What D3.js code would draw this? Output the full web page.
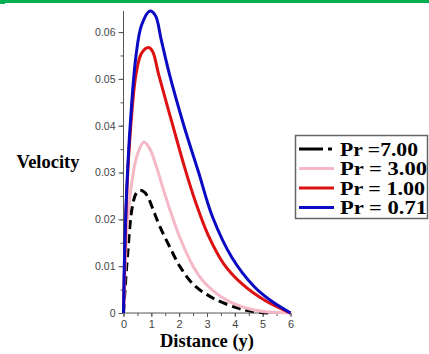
<!DOCTYPE html>
<html>
<head>
<meta charset="utf-8">
<script src="https://cdn.jsdelivr.net/npm/d3@7"></script>
<style>
  body { margin: 0; background: #fff; }
  svg { display: block; }
</style>
</head>
<body>
<div id="chart"></div>
<script>
// values (distance y -> velocity)
const blueX = [0, 0.04, 0.12, 0.25, 0.45, 0.65, 0.95, 1.15, 1.35, 1.65, 2.17, 2.7, 3.2, 3.9, 4.7, 5.3, 6]
const blueV = [0, 0.013, 0.027, 0.041, 0.055, 0.0615, 0.0645, 0.0635, 0.0585, 0.051, 0.040, 0.030, 0.0205, 0.0118, 0.0056, 0.0026, 0]

const redX = [0, 0.05, 0.12, 0.25, 0.45, 0.65, 0.9, 1.05, 1.26, 1.75, 2.23, 2.6, 3.05, 3.6, 4.26, 5.1, 6]
const redV = [0, 0.013, 0.026, 0.039, 0.051, 0.0555, 0.0567, 0.0558, 0.051, 0.0405, 0.0304, 0.0235, 0.0165, 0.0105, 0.0062, 0.0026, 0]

const pinkX = [0, 0.06, 0.15, 0.3, 0.48, 0.73, 0.95, 1.17, 1.4, 1.7, 2.0, 2.5, 2.94, 3.72, 4.5, 5.2, 6]
const pinkV = [0, 0.010, 0.020, 0.028, 0.0335, 0.0365, 0.035, 0.0315, 0.027, 0.0215, 0.0165, 0.0100, 0.0063, 0.0027, 0.0009, 0.0002, 0]

const blackX = [0, 0.06, 0.15, 0.31, 0.45, 0.59, 0.75, 0.9, 1.08, 1.32, 1.67, 2.03, 2.51, 3.24, 4.08, 4.56, 5.25]
const blackV = [0, 0.0054, 0.0126, 0.0225, 0.0255, 0.0262, 0.0258, 0.0245, 0.0218, 0.0183, 0.014, 0.0099, 0.0061, 0.0031, 0.0011, 0.0004, 0]

const legendLabels = ["Pr =7.00", "Pr = 3.00", "Pr = 1.00", "Pr = 0.71"]
const xTicks = [0, 1, 2, 3, 4, 5, 6]
const yTicks = [0, 0.01, 0.02, 0.03, 0.04, 0.05, 0.06]

const series = [
    {name: legendLabels[0], xs: blackX, vs: blackV, color: "#000000", dash: "9,5", textLen: 78},
    {name: legendLabels[1], xs: pinkX, vs: pinkV, color: "#f5b8c6", dash: null, textLen: 87},
    {name: legendLabels[2], xs: redX, vs: redV, color: "#dd1111", dash: null, textLen: 85},
    {name: legendLabels[3], xs: blueX, vs: blueV, color: "#0a0ac4", dash: null, textLen: 87}
]

const W = 429, H = 354

const svg = d3.select("#chart")
    .append("svg")
    .attr("width", W)
    .attr("height", H)

// green strip along the top edge
svg.append("rect").attr("x", 0).attr("y", 0).attr("width", W).attr("height", 3).attr("fill", "#00b050")
svg.append("rect").attr("x", 0).attr("y", 0).attr("width", 5).attr("height", 4).attr("fill", "#00b050")

const xScale = d3.scaleLinear().domain([0, 6]).range([123.5, 290.5])
const yScale = d3.scaleLinear().domain([0, 0.0645]).range([313, 11])

const axisColor = "#555"
const tickFont = "'Liberation Sans', Arial, sans-serif"

// y axis with minor ticks
const yMinor = d3.range(0, 0.0646, 0.005)
svg.append("g")
    .attr("transform", `translate(${xScale(0)},0)`)
    .call(d3.axisLeft(yScale).tickValues(yMinor).tickSize(3).tickFormat(""))
    .call(g => g.select(".domain").remove())
    .selectAll("line").attr("stroke", axisColor)

const yAxis = svg.append("g")
    .attr("class", "yAxis")
    .attr("transform", `translate(${xScale(0)},0)`)
    .call(d3.axisLeft(yScale).tickValues(yTicks).tickSize(5).tickPadding(3)
        .tickFormat(d => d === 0 ? "0" : d3.format(".2f")(d)))
yAxis.select(".domain").attr("stroke", axisColor).attr("d", `M0,${yScale(0)}V11`)
yAxis.selectAll("line").attr("stroke", axisColor)
yAxis.selectAll("text")
    .style("font", `10.5px ${tickFont}`)
    .attr("fill", "#444")

// x axis with minor ticks
const xMinor = d3.range(0, 6.01, 0.5)
svg.append("g")
    .attr("transform", `translate(0,${yScale(0)})`)
    .call(d3.axisBottom(xScale).tickValues(xMinor).tickSize(3).tickFormat(""))
    .call(g => g.select(".domain").remove())
    .selectAll("line").attr("stroke", axisColor)

const xAxis = svg.append("g")
    .attr("class", "xAxis")
    .attr("transform", `translate(0,${yScale(0)})`)
    .call(d3.axisBottom(xScale).tickValues(xTicks).tickSize(4).tickPadding(3).tickFormat(d3.format("d")))
xAxis.select(".domain").attr("stroke", axisColor).attr("d", `M${xScale(0)},0H${xScale(6)}`)
xAxis.selectAll("line").attr("stroke", axisColor)
xAxis.selectAll("text")
    .style("font", `11px ${tickFont}`)
    .attr("fill", "#444")

// axis titles
const titleFont = "'Liberation Serif', 'Times New Roman', serif"
svg.append("text")
    .attr("x", 207)
    .attr("y", 346.5)
    .attr("text-anchor", "middle")
    .style("font", `bold 18.5px ${titleFont}`)
    .text("Distance (y)")

svg.append("text")
    .attr("x", 16.5)
    .attr("y", 168)
    .style("font", `bold 18.5px ${titleFont}`)
    .text("Velocity")

// curves
const line = d3.line()
    .x(d => xScale(d[0]))
    .y(d => yScale(d[1]))
    .curve(d3.curveCatmullRom.alpha(0.5))

svg.append("g")
    .attr("class", "curves")
    .selectAll("path")
    .data(series)
    .join("path")
    .attr("d", s => line(s.xs.map((x, i) => [x, s.vs[i]])))
    .attr("fill", "none")
    .attr("stroke", s => s.color)
    .attr("stroke-width", 3)
    .attr("stroke-dasharray", s => s.dash)
    .attr("stroke-linejoin", "round")

// legend
const legend = svg.append("g").attr("class", "legend")
legend.append("rect")
    .attr("x", 295.5)
    .attr("y", 135.5)
    .attr("width", 132)
    .attr("height", 83)
    .attr("fill", "#fff")
    .attr("stroke", "#666")
    .attr("stroke-width", 1.5)

const rows = legend.selectAll(".row")
    .data(series)
    .join("g")
    .attr("class", "row")
    .attr("transform", (d, i) => `translate(0,${149 + i * 19.5})`)

rows.append("line")
    .attr("x1", 299)
    .attr("x2", 334)
    .attr("stroke", d => d.color)
    .attr("stroke-width", 3)
    .attr("stroke-dasharray", d => d.dash ? "24,5,4,10" : null)

rows.append("text")
    .attr("x", 340)
    .attr("y", 6.5)
    .attr("textLength", d => d.textLen)
    .attr("lengthAdjust", "spacingAndGlyphs")
    .style("font", `bold 18.5px ${titleFont}`)
    .text(d => d.name)
</script>
</body>
</html>
